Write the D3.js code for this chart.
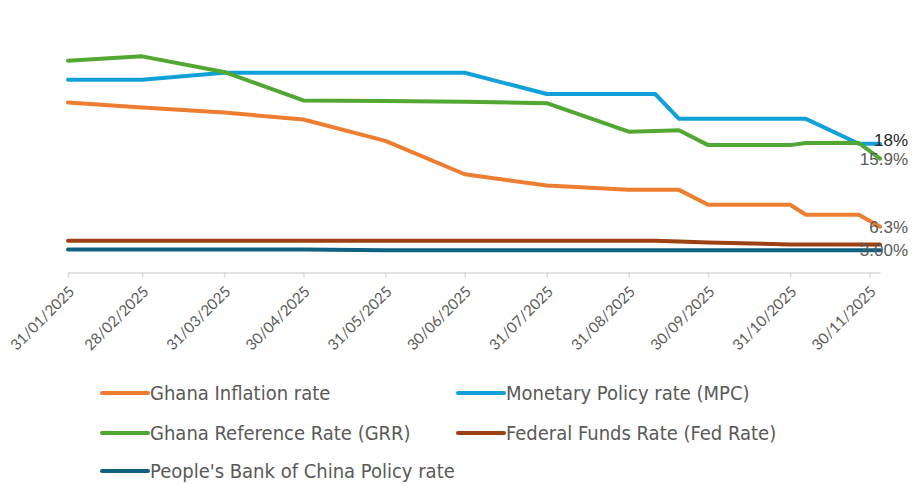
<!DOCTYPE html>
<html>
<head>
<meta charset="utf-8">
<script src="https://cdn.jsdelivr.net/npm/d3@7"></script>
<style>
  html, body { margin: 0; padding: 0; background: #ffffff; }
  svg { display: block; }
</style>
</head>
<body>
<svg id="chart" width="912" height="484"></svg>
<script>
// ---- Data ----
const dates = ["2025-01-31","2025-02-28","2025-03-31","2025-04-30","2025-05-31","2025-06-30",
               "2025-07-31","2025-08-31","2025-09-10","2025-09-19","2025-09-30","2025-10-31",
               "2025-11-06","2025-11-26","2025-12-04"];
const inflation = [23.8, 23.1, 22.4, 21.4, 18.4, 13.7, 12.1, 11.5, 11.5, 11.5, 9.4, 9.4, 8.0, 8.0, 6.3];
const mpc       = [27, 27, 28, 28, 28, 28, 25, 25, 25, 21.5, 21.5, 21.5, 21.5, 18, 18];
const grr       = [29.7, 30.3, 28.1, 24.1, 24.0, 23.9, 23.7, 19.7, 19.8, 19.9, 17.8, 17.8, 18.1, 18.1, 15.9];
const fedRate   = [4.33, 4.33, 4.33, 4.33, 4.33, 4.33, 4.33, 4.33, 4.33, 4.22, 4.1, 3.8, 3.8, 3.8, 3.8];
const pbocRate  = [3.1, 3.1, 3.1, 3.1, 3.0, 3.0, 3.0, 3.0, 3.0, 3.0, 3.0, 3.0, 3.0, 3.0, 3.0];

const seriesNames  = ["Ghana Inflation rate", "Monetary Policy rate (MPC)", "Ghana Reference Rate (GRR)",
                      "Federal Funds Rate (Fed Rate)", "People's Bank of China Policy rate"];
const seriesColors = ["#ED7D31", "#12A0D9", "#52A732", "#9C4113", "#10617F"];
const endLabels    = ["6.3%", "18%", "15.9%", null, "3.00%"];
const tickDates    = ["2025-01-31","2025-02-28","2025-03-31","2025-04-30","2025-05-31","2025-06-30",
                      "2025-07-31","2025-08-31","2025-09-30","2025-10-31","2025-11-30"];
const tickLabels   = ["31/01/2025","28/02/2025","31/03/2025","30/04/2025","31/05/2025","30/06/2025",
                      "31/07/2025","31/08/2025","30/09/2025","31/10/2025","30/11/2025"];

// ---- Build ----
const parse = d3.timeParse("%Y-%m-%d");
const allValues = [inflation, mpc, grr, fedRate, pbocRate];
const series = seriesNames.map((name, i) => ({
  name, color: seriesColors[i], label: endLabels[i],
  values: dates.map((d, j) => ({ date: parse(d), value: allValues[i][j] }))
}));

const svg = d3.select("#chart");
const x = d3.scaleTime()
  .domain([parse(dates[0]), parse(dates[dates.length - 1])])
  .range([68, 880]);
const y = d3.scaleLinear().domain([0, 35]).range([271.5, 23]);

// x axis
const tickVals = tickDates.map(parse);
const axis = d3.axisBottom(x)
  .tickValues(tickVals)
  .tickSize(5)
  .tickSizeOuter(0)
  .tickFormat((d, i) => tickLabels[i]);
const gx = svg.append("g").attr("transform", "translate(0,272.5)").call(axis);
gx.select(".domain").attr("stroke", "#d9d9d9").attr("stroke-width", 1.5);
gx.selectAll(".tick line").attr("stroke", "#d9d9d9").attr("stroke-width", 1.5);
gx.selectAll(".tick text")
  .attr("fill", "#595959")
  .style("font-family", "Lato, 'Liberation Sans', sans-serif")
  .style("font-size", "15px")
  .attr("text-anchor", "end")
  .attr("x", 0).attr("y", 0).attr("dy", 0)
  .attr("transform", "translate(7,20) rotate(-45)");

// lines
const line = d3.line().x(d => x(d.date)).y(d => y(d.value));
svg.append("g").selectAll("path").data(series).join("path")
  .attr("d", d => line(d.values))
  .attr("fill", "none")
  .attr("stroke", d => d.color)
  .attr("stroke-width", 4)
  .attr("stroke-linejoin", "round")
  .attr("stroke-linecap", "round");

// end labels
const labelShift = { "18%": -4 };
svg.append("g").selectAll("text").data(series.filter(s => s.label)).join("text")
  .attr("x", 908)
  .attr("y", d => y(d.values[d.values.length - 1].value) + (labelShift[d.label] || 0))
  .attr("dy", "0.36em")
  .attr("text-anchor", "end")
  .attr("fill", d => d.label === "18%" ? "#262626" : "#595959")
  .style("font-family", "'Liberation Sans', Arial, sans-serif")
  .style("font-size", "17px")
  .text(d => d.label);

// legend
const legendPos = [[102, 393], [458, 393], [102, 433], [458, 433], [102, 471]];
const lg = svg.append("g").selectAll("g").data(series).join("g")
  .attr("transform", (d, i) => `translate(${legendPos[i][0]},${legendPos[i][1]})`);
lg.append("line").attr("x1", 0).attr("x2", 46).attr("y1", 0).attr("y2", 0)
  .attr("stroke", d => d.color).attr("stroke-width", 4).attr("stroke-linecap", "round");
lg.append("text").attr("x", 48).attr("y", 0).attr("dy", "0.36em")
  .attr("fill", "#595959")
  .style("font-family", "'DejaVu Sans Condensed', 'DejaVu Sans', sans-serif")
  .style("font-size", "20px")
  .text(d => d.name);
</script>
</body>
</html>
